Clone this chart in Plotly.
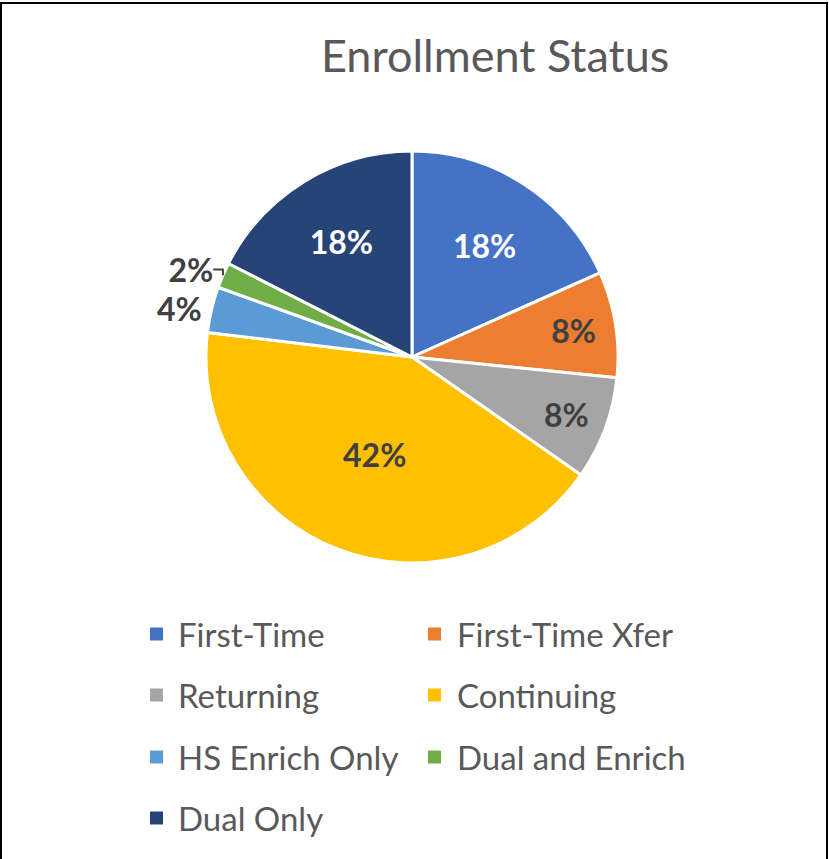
import plotly.graph_objects as go

# ---- data ----
labels = ["First-Time", "First-Time Xfer", "Returning", "Continuing",
          "HS Enrich Only", "Dual and Enrich", "Dual Only"]
values = [18.3, 8.3, 8.1, 42.2, 3.6, 2.0, 17.5]
colors = ["#4472C4", "#ED7D31", "#A5A5A5", "#FFC000", "#5B9BD5", "#70AD47", "#264478"]
text_colors = ["#FFFFFF", "#404040", "#404040", "#404040", "#404040", "#404040", "#FFFFFF"]
text_positions = ["inside", "inside", "inside", "inside", "outside", "outside", "inside"]
title_text = "Enrollment Status"

W, H = 829, 859
FONT = "Lato, 'Open Sans', sans-serif"

def px_x(x):
    return x / W

def px_y(y):
    return 1 - y / H

cx, cy, R = 412, 357, 206

fig = go.Figure()
fig.add_trace(go.Pie(
    labels=labels,
    values=values,
    sort=False,
    direction="clockwise",
    rotation=0,
    marker=dict(colors=colors, line=dict(color="#FFFFFF", width=3)),
    texttemplate="%{percent:.0%}",
    textposition=text_positions,
    insidetextorientation="horizontal",
    insidetextfont=dict(family=FONT, size=32, color=text_colors, weight="bold"),
    outsidetextfont=dict(family=FONT, size=32, color="#404040", weight="bold"),
    hoverinfo="label+percent",
    showlegend=False,
    domain=dict(x=[px_x(cx - R), px_x(cx + R)], y=[px_y(cy + R), px_y(cy - R)]),
))

shapes = []
annotations = []

# Manual two-column legend (Excel style)
col_marker_x = [150, 428]
col_text_x = [176, 455]
row_y = [634, 695, 757, 818]
msize = 13
for i, (lab, col) in enumerate(zip(labels, colors)):
    r, c = divmod(i, 2)
    mx, my = col_marker_x[c], row_y[r]
    shapes.append(dict(type="rect", xref="paper", yref="paper",
                       x0=px_x(mx), x1=px_x(mx + msize),
                       y0=px_y(my + msize / 2), y1=px_y(my - msize / 2),
                       fillcolor=col, line=dict(width=0)))
    annotations.append(dict(text=lab, xref="paper", yref="paper",
                            x=px_x(col_text_x[c]), y=px_y(my),
                            xanchor="left", yanchor="middle", showarrow=False,
                            font=dict(family=FONT, size=33, color="#595959")))

# Title
annotations.append(dict(text=title_text, xref="paper", yref="paper",
                        x=px_x(495), y=px_y(55), xanchor="center", yanchor="middle",
                        showarrow=False,
                        font=dict(family=FONT, size=45, color="#595959")))

# Outer frame
shapes.append(dict(type="rect", xref="paper", yref="paper",
                   x0=px_x(1), x1=px_x(827), y0=px_y(H + 10), y1=px_y(3),
                   line=dict(color="#000000", width=2), fillcolor="rgba(0,0,0,0)"))

fig.update_layout(
    width=W, height=H,
    margin=dict(l=0, r=0, t=0, b=0),
    paper_bgcolor="#FFFFFF",
    plot_bgcolor="#FFFFFF",
    shapes=shapes,
    annotations=annotations,
    font=dict(family=FONT),
)

fig.write_html(
    "out.html",
    config={"displayModeBar": False},
    post_script="document.body.style.margin='0px';document.body.style.overflow='hidden';",
)
